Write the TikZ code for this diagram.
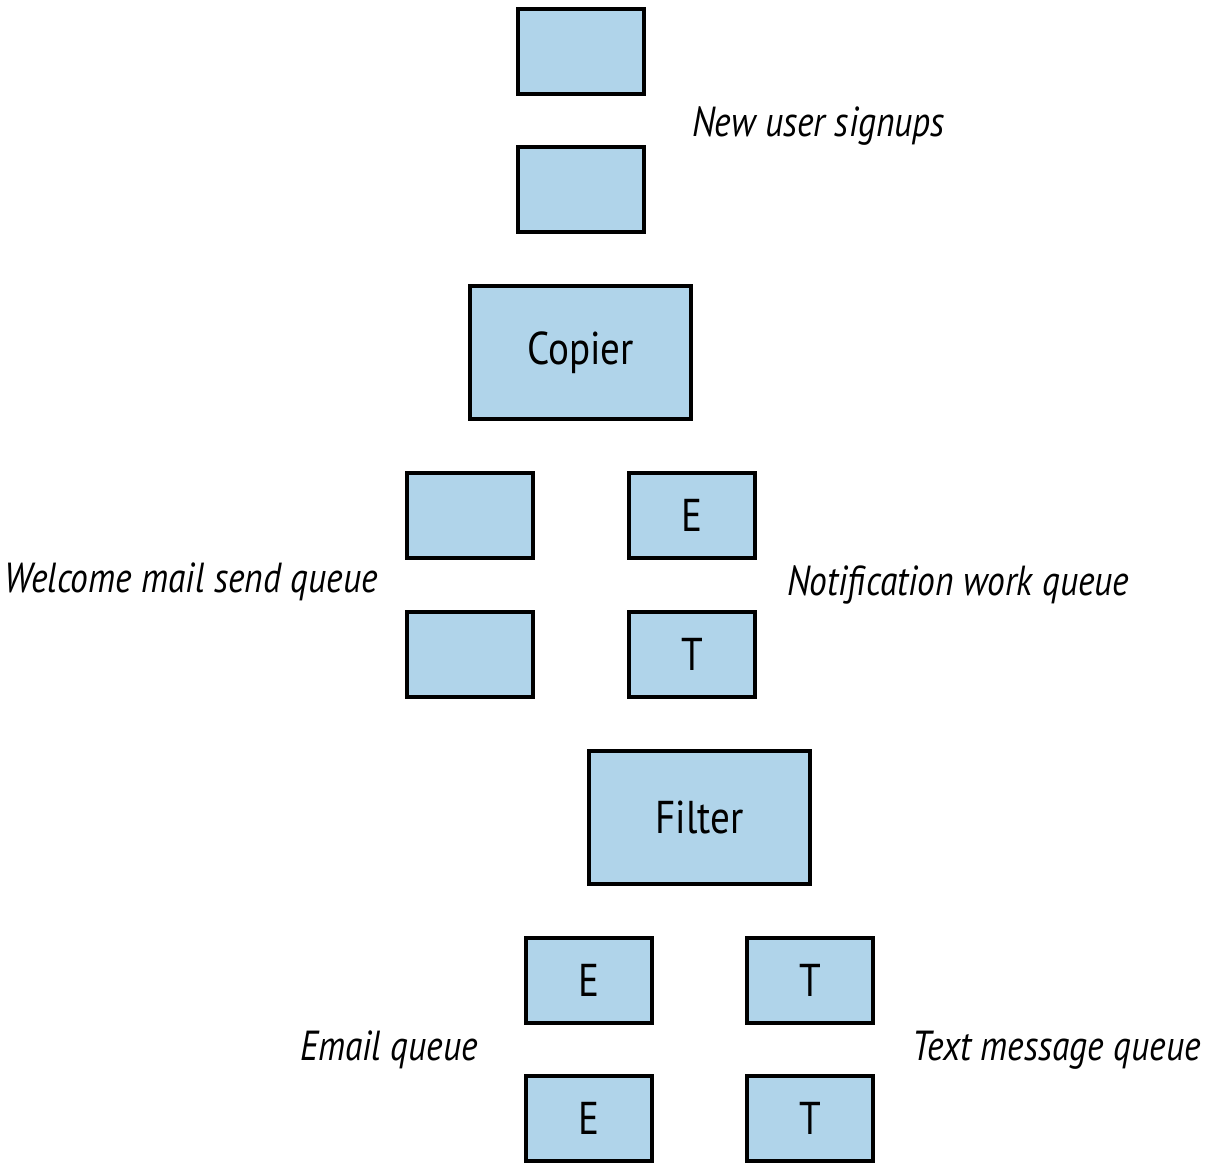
\documentclass[tikz,border=0pt]{standalone}
\usepackage{fontspec}
\setmainfont[FakeStretch=0.845]{PT Sans}
\newfontfamily\boxfont[FakeStretch=0.85]{PT Sans}
\definecolor{qblue}{RGB}{176,212,234}
\begin{document}
\begin{tikzpicture}[x=1pt,y=-1pt,
  box/.style={draw=black,fill=qblue,line width=4pt,minimum width=126pt,minimum height=85pt,inner sep=0pt,font=\boxfont\fontsize{46}{54}\selectfont},
  bigbox/.style={box,minimum width=221pt,minimum height=133pt},
  lbl/.style={inner sep=0pt,font=\fontsize{42}{50}\selectfont\itshape}]
\useasboundingbox (0,0) rectangle (1207,1168);
\node[box] (s1) at (581,51.5) {};
\node[box] (s2) at (581,189.5) {};
\node[bigbox] (copier) at (580.5,352.5) {Copier};
\node[box] (w1) at (470,515.5) {};
\node[box] (w2) at (470,654.5) {};
\node[box] (n1) at (692,515.5) {E};
\node[box] (n2) at (692,654.5) {T};
\node[bigbox] (filter) at (699.5,817) {Filter};
\node[box] (e1) at (589,980.5) {E};
\node[box] (e2) at (589,1118.5) {E};
\node[box] (t1) at (810,980.5) {T};
\node[box] (t2) at (810,1118.5) {T};
\node[lbl,anchor=west] (lsign) at (692,126) {New user signups};
\node[lbl,anchor=east] (lwel) at (378,582) {Welcome mail send queue};
\node[lbl,anchor=west] (lnot) at (787,585) {Notification work queue};
\node[lbl,anchor=east] (lemail) at (478,1050) {Email queue};
\node[lbl,anchor=west] (ltext) at (912,1050) {Text message queue};
\end{tikzpicture}
\end{document}
